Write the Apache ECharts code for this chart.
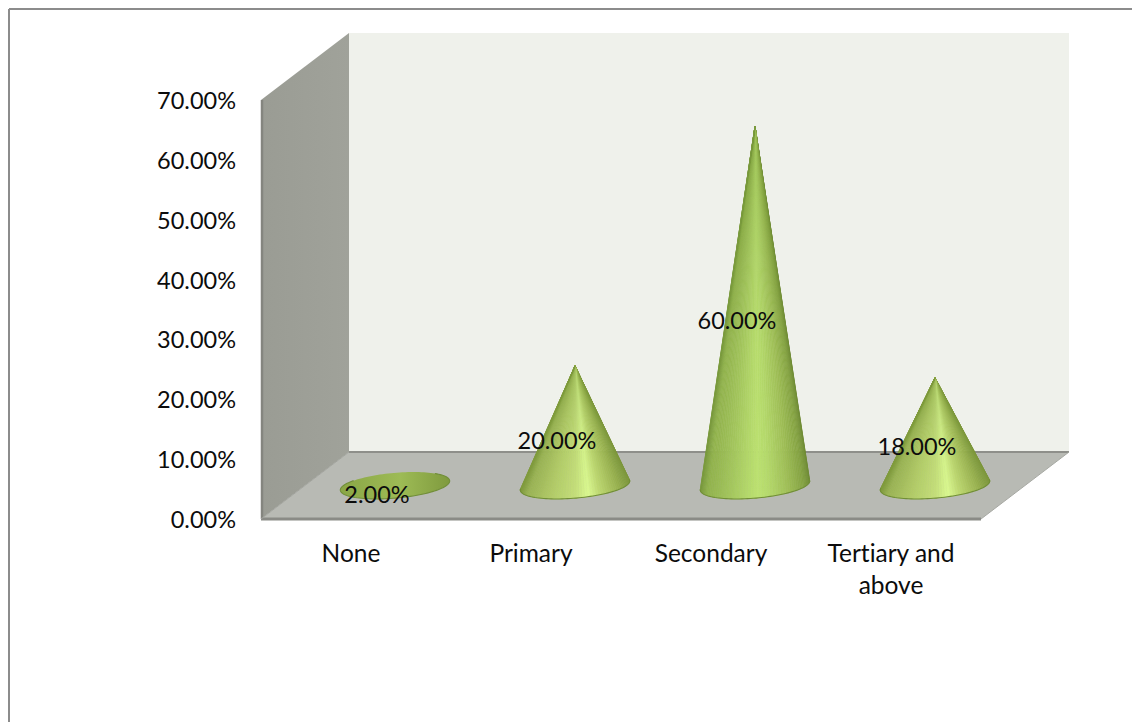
<!DOCTYPE html>
<html>
<head>
<meta charset="utf-8">
<style>
  html, body { margin: 0; padding: 0; background: #fff; }
  #chart { width: 1132px; height: 722px; }
  #chart text { font-variant-ligatures: none; }
</style>
<script src="https://cdn.jsdelivr.net/npm/echarts@6/dist/echarts.min.js"></script>
</head>
<body>
<div id="chart"></div>
<script>
// Education level shares
const categories = ['None', 'Primary', 'Secondary', 'Tertiary and\nabove'];
const shares = [2, 20, 60, 18];
const axisMin = 0;
const axisMax = 70;
const axisStep = 10;

const FONT = 'Lato, "Open Sans", sans-serif';
const TEXT = '#0c0c0c';

// Oblique projection of the box: how far the back plane sits from the front plane
const DEPTH_X = 88;
const DEPTH_Y = -67;

// Shading around a cone, from its left silhouette to its right one
const SHADE_TALL = [[0, '#7a9a3e'], [0.06, '#92b34e'], [0.25, '#a2c45c'], [0.52, '#bde272'], [0.62, '#b6da6d'], [0.8, '#a0bf58'], [0.94, '#86a444'], [1, '#708c36']];
const SHADE_SHORT = [[0, '#7f9a3c'], [0.06, '#9ab354'], [0.3, '#b4cd6a'], [0.5, '#c4de7a'], [0.62, '#dbf991'], [0.72, '#bfd972'], [0.88, '#9db653'], [1, '#7c963b']];
const SHADE_FLAT = [[0, '#8aa646'], [0.55, '#9dbb55'], [1, '#7f9a3e']];

const chart = echarts.init(document.getElementById('chart'), null, { renderer: 'svg' });

function hGrad(stops) {
  return new echarts.graphic.LinearGradient(0, 0, 1, 0, stops.map(([offset, color]) => ({ offset, color })));
}
function vGrad(stops) {
  return new echarts.graphic.LinearGradient(0, 0, 0, 1, stops.map(([offset, color]) => ({ offset, color })));
}
function shadeAt(stops, s) {
  for (let i = 1; i < stops.length; i++) {
    if (s <= stops[i][0]) {
      const t = (s - stops[i - 1][0]) / (stops[i][0] - stops[i - 1][0]);
      return echarts.color.lerp(t, [stops[i - 1][1], stops[i][1]]);
    }
  }
  return stops[stops.length - 1][1];
}

// Back wall, side wall and floor of the box, taken from the grid rectangle
function renderBox(params) {
  const { x, y, width: w, height: h } = params.coordSys;
  const r = x + w;
  const b = y + h;
  const dx = DEPTH_X;
  const dy = DEPTH_Y;
  const poly = (points, fill) => ({
    type: 'polygon', shape: { points }, style: { fill }, silent: true
  });
  const line = (x1, y1, x2, y2, stroke, lineWidth) => ({
    type: 'line', shape: { x1, y1, x2, y2 }, style: { stroke, lineWidth }, silent: true
  });
  return {
    type: 'group',
    children: [
      poly([[x + dx, y + dy], [r + dx, y + dy], [r + dx, b + dy], [x + dx, b + dy]], '#eff1eb'),
      poly([[x, y], [x + dx, y + dy], [x + dx, b + dy], [x, b]], hGrad([[0, '#9a9c94'], [1, '#a0a29a']])),
      poly([[x, b], [x + dx, b + dy], [r + dx, b + dy], [r, b]], '#b8bab4'),
      line(x + dx, b + dy, r + dx, b + dy, '#8e8f8a', 2),
      line(x + 1, y, x + 1, b, '#84857f', 2.5),
      line(x, b, r, b, '#8a8b86', 3),
      line(r, b, r + dx, b + dy, '#a6a8a2', 1),
      line(x, b, x + dx, b + dy, '#a2a49e', 1)
    ]
  };
}

// A cone standing halfway into the floor, with a slightly tilted elliptical base
function renderCone(params, api) {
  const idx = api.value(0);
  const val = api.value(1);
  const front = api.coord([idx, 0]);
  const top = api.coord([idx, val]);
  const mid = api.coord([idx, val / 2]);
  const band = api.size([1, 0])[0];

  const cx = front[0] + DEPTH_X / 2;
  const cy = front[1] + DEPTH_Y / 2;
  const tip = [cx, top[1] + DEPTH_Y / 2];
  const a = band * 0.305;
  const bb = a * 0.23;
  const tilt = -5 * Math.PI / 180;
  const ux = Math.cos(tilt), uy = Math.sin(tilt);
  const vx = -uy, vy = ux;
  const at = (t) => [
    cx + a * Math.cos(t) * ux + bb * Math.sin(t) * vx,
    cy + a * Math.cos(t) * uy + bb * Math.sin(t) * vy
  ];

  // Sweep the base from top via the right side to the bottom and on to the left
  const N = 120;
  const pts = [];
  for (let i = 0; i <= N; i++) pts.push(at(-Math.PI / 2 + (2 * Math.PI * i) / N));

  const tdx = tip[0] - cx, tdy = tip[1] - cy;
  const tu = (tdx * ux + tdy * uy) / a;
  const tv = (tdx * vx + tdy * vy) / bb;
  const tipInside = tu * tu + tv * tv < 1;

  const children = [];
  let rim;
  if (tipInside) {
    children.push({
      type: 'polygon', shape: { points: pts.slice() }, style: { fill: hGrad(SHADE_FLAT) }, silent: true
    });
    rim = pts.slice(N / 4 - 14, (3 * N) / 4 + 15);
  } else {
    // The silhouette leaves the base where the line from the tip is tangent to it
    let right = 0, left = N;
    let bestR = -Infinity, bestL = Infinity;
    pts.forEach((p, i) => {
      const ang = Math.atan2(p[0] - tip[0], p[1] - tip[1]);
      if (i <= N / 2 && ang > bestR) { bestR = ang; right = i; }
      if (i >= N / 2 && ang < bestL) { bestL = ang; left = i; }
    });
    rim = pts.slice(right, left + 1);

    // Shaded wedges converging on the tip, so the highlight narrows with height
    const xs = rim.map((p) => p[0]);
    const minX = Math.min(...xs), maxX = Math.max(...xs);
    const stops = val > 40 ? SHADE_TALL : SHADE_SHORT;
    for (let i = 0; i < rim.length - 1; i++) {
      const s = ((rim[i][0] + rim[i + 1][0]) / 2 - minX) / (maxX - minX);
      const color = shadeAt(stops, s);
      children.push({
        type: 'polygon',
        shape: { points: [tip, rim[i], rim[i + 1]] },
        style: { fill: color, stroke: color, lineWidth: 0.6 },
        silent: true
      });
    }
    children.push({
      type: 'polygon',
      shape: { points: [tip].concat(rim) },
      style: { fill: vGrad([[0, 'rgba(112,146,52,0.35)'], [0.6, 'rgba(130,165,60,0.08)'], [1, 'rgba(130,165,60,0)']]) },
      silent: true
    });
  }

  children.push({
    type: 'polyline',
    shape: { points: rim },
    style: { stroke: '#718e38', lineWidth: 1.1, fill: null },
    silent: true
  });
  // The value label sits partway into the box, beside the cone's axis
  children.push({
    type: 'text',
    x: mid[0] + 26,
    y: mid[1] - 19,
    style: {
      text: val.toFixed(2) + '%',
      fill: TEXT,
      font: '23.5px ' + FONT,
      align: 'center',
      verticalAlign: 'middle'
    },
    silent: true
  });
  return { type: 'group', children };
}

const option = {
  backgroundColor: '#ffffff',
  animation: false,
  grid: { left: 261, top: 100, width: 720, height: 419, containLabel: false },
  xAxis: {
    type: 'category',
    data: categories,
    axisLine: { show: false },
    axisTick: { show: false },
    splitLine: { show: false },
    axisLabel: {
      color: TEXT, fontFamily: FONT, fontSize: 24.5, margin: 17,
      lineHeight: 32, interval: 0, verticalAlign: 'top'
    }
  },
  yAxis: {
    type: 'value',
    min: axisMin,
    max: axisMax,
    interval: axisStep,
    axisLine: { show: false },
    axisTick: { show: false },
    splitLine: { show: false },
    axisLabel: {
      color: TEXT, fontFamily: FONT, fontSize: 23.5, margin: 25,
      padding: [6, 0, 0, 0],
      formatter: (v) => v.toFixed(2) + '%'
    }
  },
  graphic: [
    // Frame around the chart area: only its top and left edges are in view
    { type: 'line', silent: true, shape: { x1: 9, y1: 9, x2: 1132, y2: 9 }, style: { stroke: '#8c8c8c', lineWidth: 2 } },
    { type: 'line', silent: true, shape: { x1: 9, y1: 9, x2: 9, y2: 722 }, style: { stroke: '#8c8c8c', lineWidth: 2 } }
  ],
  series: [
    {
      type: 'custom',
      name: 'box',
      coordinateSystem: 'cartesian2d',
      clip: false,
      silent: true,
      z: 1,
      renderItem: renderBox,
      data: [[0, 0]]
    },
    {
      type: 'custom',
      name: 'Share',
      coordinateSystem: 'cartesian2d',
      clip: false,
      silent: true,
      z: 2,
      renderItem: renderCone,
      encode: { x: 0, y: 1 },
      data: shares.map((v, i) => [i, v])
    }
  ]
};

chart.setOption(option);
</script>
</body>
</html>
